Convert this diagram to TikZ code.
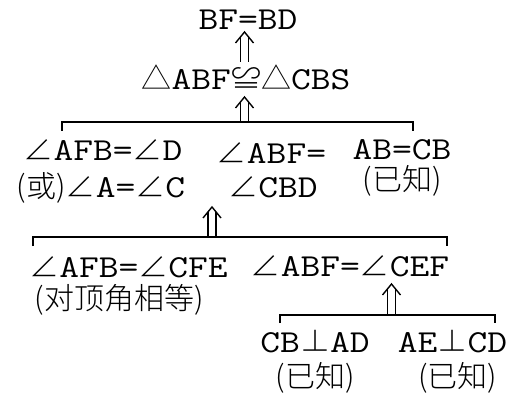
\documentclass[tikz,border=0pt]{standalone}
\usepackage{fontspec}
\setmainfont{Latin Modern Mono}[FakeStretch=1.2]
\newfontfamily\cjkfont{Noto Sans CJK SC Light}
\newcommand\cj[1]{{\cjkfont\fontsize{30}{30}\selectfont #1}}
\newcommand\ang{\cj{∠}}
\newcommand\tri{\cj{△}}
\newcommand\dblup[2]{%
  \draw[conn] ([xshift=-4pt]#1) -- ([xshift=-4pt,yshift=-5pt]#2);
  \draw[conn] ([xshift=4pt]#1) -- ([xshift=4pt,yshift=-5pt]#2);
  \draw[conn] ([xshift=-9pt,yshift=-11pt]#2) -- (#2) -- ([xshift=9pt,yshift=-11pt]#2);
}
\tikzset{
  txt/.style={inner sep=0pt, anchor=base, font=\fontsize{32}{32}\selectfont},
  conn/.style={draw=black, line width=1.4pt}
}
\begin{document}
\begin{tikzpicture}[x=1pt,y=-1pt]
\useasboundingbox[fill=white] (0,0) rectangle (511,401);
% text nodes
\node[txt] (n1) at (248,30) {BF=BD};
\node[txt] (n2) at (246,90) {\tri ABF\cj{≌}\tri CBS};
\node[txt] (n3a) at (103,160) {\ang AFB=\ang D};
\node[txt] (n3b) at (101,197) {\cj{(或)}\ang A=\ang C};
\node[txt] (n4a) at (271.5,163) {\ang ABF=};
\node[txt] (n4b) at (273,197) {\ang CBD};
\node[txt] (n5a) at (402,159) {AB=CB};
\node[txt] (n5b) at (402,190) {\cj{(已知)}};
\node[txt] (n6a) at (128.5,277) {\ang AFB=\ang CFE};
\node[txt] (n6b) at (119,309) {\cj{(对顶角相等)}};
\node[txt] (n7) at (350,276) {\ang ABF=\ang CEF};
\node[txt] (n8a) at (315,352) {CB\cj{⊥}AD};
\node[txt] (n8b) at (315,387) {\cj{(已知)}};
\node[txt] (n9a) at (452.5,352) {AE\cj{⊥}CD};
\node[txt] (n9b) at (457.5,387) {\cj{(已知)}};
% bracket coordinates
\coordinate (a1) at (244.5,62);
\coordinate (b1) at (244.5,122);
\coordinate (b1l) at (62,131);
\coordinate (b1r) at (413,131);
\coordinate (b2) at (212,237);
\coordinate (b2l) at (33,246);
\coordinate (b2r) at (447,246);
\coordinate (b3) at (391.5,315);
\coordinate (b3l) at (280,323);
\coordinate (b3r) at (495,323);
% arrow tips
\path (a1 |- n1.base) ++(0,2) coordinate (t1);
\path (b1 |- n2.base) ++(0,7) coordinate (t2);
\path (b2 |- n4b.base) ++(0,10) coordinate (t3);
\path (b3 |- n7.base) ++(0,8) coordinate (t4);
% brackets
\draw[conn] (b1l) |- (b1) -| (b1r);
\draw[conn] (b2l) |- (b2) -| (b2r);
\draw[conn] (b3l) |- (b3) -| (b3r);
% double arrows
\dblup{a1}{t1}
\dblup{b1}{t2}
\dblup{b2}{t3}
\dblup{b3}{t4}
\end{tikzpicture}
\end{document}
